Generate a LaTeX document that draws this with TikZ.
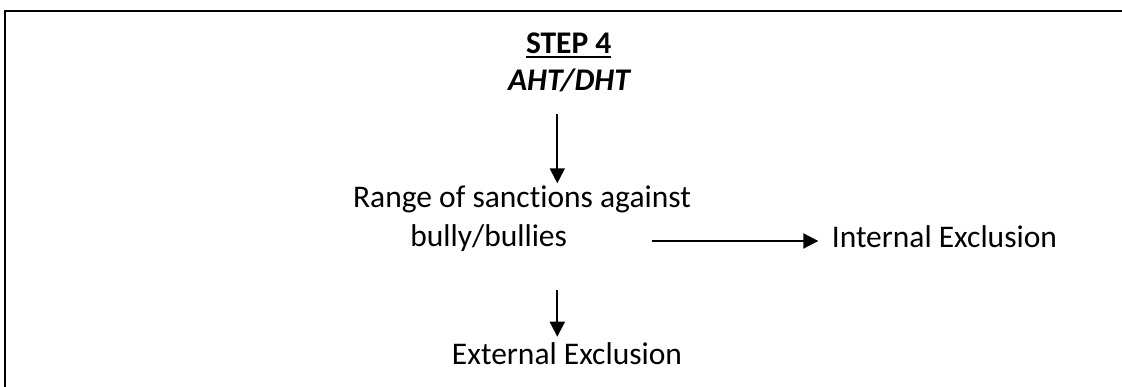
\documentclass[tikz,border=0pt]{standalone}
\usepackage{fontspec}
\setmainfont{Carlito}[Ligatures=CommonOff]
\usetikzlibrary{arrows.meta}
\newcommand{\myul}[1]{\setbox0\hbox{#1}\rlap{\rule[-5pt]{\wd0}{2.3pt}}\box0}
\begin{document}
\begin{tikzpicture}[x=1pt,y=-1pt,
  lbl/.style={anchor=base,inner sep=0pt,font=\fontsize{31.5}{38}\selectfont},
  arr/.style={line width=2pt,-{Triangle[length=15pt,width=15pt]}}]
\useasboundingbox (0,0) rectangle (1122,387);
\draw[line width=2pt] (5,388) -- (5,10.8) -- (1123,10.8);
\node[lbl] (step) at (568.7,53.3) {\bfseries\myul{STEP 4}};
\node[lbl] (aht) at (569,90.7) {\bfseries\itshape AHT/DHT};
\node[lbl] (range) at (522,207.3) {Range of sanctions against};
\node[lbl] (bully) at (488.7,246.7) {bully/bullies};
\node[lbl] (internal) at (944.4,247.7) {Internal Exclusion};
\node[lbl] (external) at (567,364) {External Exclusion};
\coordinate (a1s) at (557.3,114);
\coordinate (a1e) at (557.3,183.3);
\coordinate (a2s) at (557.3,290);
\coordinate (a2e) at (557.3,336.7);
\coordinate (a3s) at (651.7,241);
\coordinate (a3e) at (818.3,241);
\draw[arr] (a1s) -- (a1e);
\draw[arr] (a2s) -- (a2e);
\draw[arr] (a3s) -- (a3e);
\end{tikzpicture}
\end{document}
